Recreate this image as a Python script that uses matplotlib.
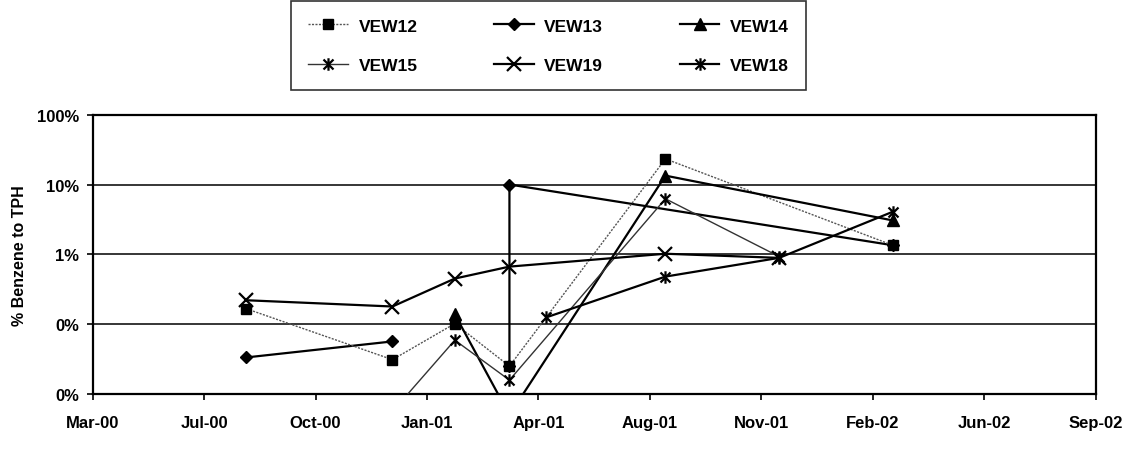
import numpy as np
import pandas as pd
import matplotlib
matplotlib.use("Agg")
import matplotlib.pyplot as plt
import matplotlib.dates as mdates
from matplotlib.path import Path
from matplotlib.ticker import FixedLocator, FuncFormatter, NullLocator

plt.rcParams["font.family"] = ["Liberation Sans", "DejaVu Sans"]
plt.rcParams["font.weight"] = "bold"

# Benzene / TPH ratio per well (fractions, log axis)
dates_12 = ["2000-08-09", "2000-12-18", "2001-02-12", "2001-04-02", "2001-08-20", "2002-03-12"]
vew12 = [0.00166, 0.00031, 0.00102, 0.00025, 0.233, 0.0135]

dates_13 = ["2000-08-09", "2000-12-18", "2001-02-12", "2001-04-02", "2001-04-02", "2002-03-12"]
vew13 = [0.000334, 0.000566, np.nan, 0.00025, 0.10, 0.0135]

dates_14 = ["2001-02-12", "2001-04-02", "2001-08-20", "2002-03-12"]
vew14 = [0.00138, 0.00005, 0.134, 0.0306]

dates_15 = ["2000-12-18", "2001-02-12", "2001-04-02", "2001-08-20", "2001-11-30"]
vew15 = [0.000056, 0.00059, 0.000158, 0.0625, 0.0093]

dates_19 = ["2000-08-09", "2000-12-18", "2001-02-12", "2001-04-02", "2001-08-20", "2001-11-30"]
vew19 = [0.0022, 0.00179, 0.0045, 0.00667, 0.0102, 0.0089]

dates_18 = ["2001-05-05", "2001-08-20", "2001-11-30", "2002-03-12"]
vew18 = [0.00125, 0.0048, 0.0089, 0.0407]

y_ticks = [0.0001, 0.001, 0.01, 0.1, 1.0]

# x marker with a vertical bar (Excel "star")
star = Path([(-1, -1), (1, 1), (-1, 1), (1, -1), (0, -1.25), (0, 1.25)],
            [Path.MOVETO, Path.LINETO, Path.MOVETO, Path.LINETO, Path.MOVETO, Path.LINETO])

fig = plt.figure(figsize=(11.28, 4.56), dpi=100)
ax = fig.add_axes([0.0822, 0.1338, 0.889, 0.6125])

d = pd.to_datetime
solid = dict(color="black", lw=1.6)

l13, = ax.plot(d(dates_13), vew13, marker="D", ms=6, mfc="black", mec="black", zorder=3, **solid)
l12, = ax.plot(d(dates_12), vew12, color="#555555", lw=1.0, ls=(0, (1.5, 1)), marker="s", ms=6.5,
               mfc="black", mec="black", zorder=4)
l14, = ax.plot(d(dates_14), vew14, marker="^", ms=8, mfc="black", mec="black", zorder=5, **solid)
l15, = ax.plot(d(dates_15), vew15, color="#333333", lw=1.0, marker=star, ms=9, mew=1.6,
               mfc="none", mec="black", zorder=6)
l19, = ax.plot(d(dates_19), vew19, marker="x", ms=10, mew=1.6, mec="black", zorder=7, **solid)
l18, = ax.plot(d(dates_18), vew18, marker=star, ms=9, mew=1.6, mfc="none", mec="black",
               zorder=8, **solid)

ax.set_yscale("log")
ax.set_ylim(0.0001, 1.0)
ax.yaxis.set_major_locator(FixedLocator(y_ticks))
ax.yaxis.set_minor_locator(NullLocator())
ax.yaxis.set_major_formatter(FuncFormatter(lambda v, p: "{:.0%}".format(v)))
ax.grid(axis="y", color="black", lw=1.1)

t0 = pd.Timestamp("2000-03-24")
x_ticks = [t0 + pd.Timedelta(days=100 * k) for k in range(10)]
ax.set_xlim(x_ticks[0], x_ticks[-1])
ax.set_xticks(x_ticks)
ax.xaxis.set_major_formatter(mdates.DateFormatter("%b-%y"))

ax.tick_params(axis="both", direction="out", length=4, width=1.2, labelsize=12, pad=6)
ax.tick_params(axis="x", pad=11)
for s in ax.spines.values():
    s.set_linewidth(1.6)

ax.set_ylabel("% Benzene to TPH", fontsize=11.5, fontweight="bold", labelpad=7)

# row-wise order as in the original legend
leg = fig.legend([l12, l15, l13, l19, l14, l18],
                 ["VEW12", "VEW15", "VEW13", "VEW19", "VEW14", "VEW18"],
                 ncol=3, loc="upper center", bbox_to_anchor=(548.5 / 1128, 1 - 2 / 456),
                 borderaxespad=0, fontsize=12.5, frameon=True, fancybox=False,
                 edgecolor="black", handlelength=2.3, handletextpad=0.6, columnspacing=4.4,
                 labelspacing=1.4, borderpad=1.0)
leg.get_frame().set_linewidth(1.2)

fig.savefig("out.png", dpi=100)
